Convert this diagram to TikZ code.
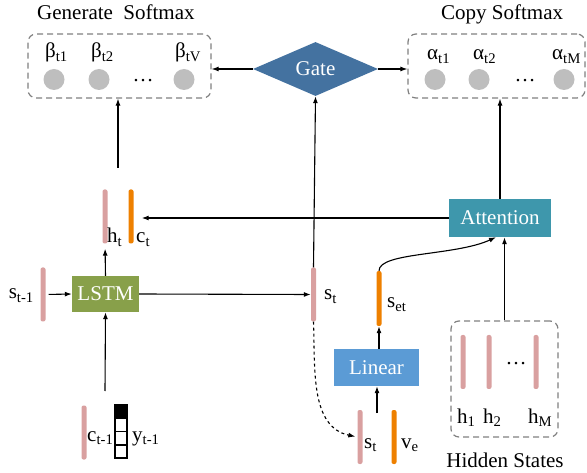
\documentclass[tikz,border=0pt]{standalone}
\usepackage{fontspec}
\setmainfont{Liberation Serif}
\usetikzlibrary{shapes.geometric,arrows.meta}
\definecolor{rosa}{RGB}{217,160,160}
\definecolor{naranja}{RGB}{238,128,0}
\definecolor{verde}{RGB}{136,160,74}
\definecolor{azulgate}{RGB}{68,114,160}
\definecolor{azulatt}{RGB}{62,151,172}
\definecolor{azullin}{RGB}{91,155,213}
\definecolor{gris}{RGB}{190,190,190}
\begin{document}
\begin{tikzpicture}[x=1pt,y=-1pt,
    >={Latex[length=7pt,width=5pt]},
    every node/.style={font=\fontsize{21}{25}\selectfont},
    flecha/.style={->,line width=1.1pt},
    barra/.style={rectangle,rounded corners=2pt,minimum width=5pt,minimum height=54pt,inner sep=0pt},
    bp/.style={barra,fill=rosa},
    bo/.style={barra,fill=naranja},
    etiq/.style={anchor=base west,inner sep=0pt},
    caja/.style={rectangle,text=white,inner sep=0pt},
    punteada/.style={draw=gray,line width=1.2pt,dash pattern=on 6pt off 4pt,rounded corners=8pt,inner sep=0pt},
    bola/.style={circle,fill=gris,minimum size=21pt,inner sep=0pt},
    celda/.style={draw,line width=1.8pt,minimum width=12pt,minimum height=13.25pt,inner sep=0pt}]
  \useasboundingbox (0,0) rectangle (587,473);

  % Cajas de softmax
  \node[anchor=base west,inner sep=0pt] (tgen) at (37,20) {Generate\ \ Softmax};
  \node[anchor=base west,inner sep=0pt] (tcopy) at (441,20) {Copy Softmax};
  \node[punteada,minimum width=183pt,minimum height=64pt] (gen) at (119.5,66) {};
  \node[punteada,minimum width=177pt,minimum height=64pt] (copy) at (496.5,66) {};

  % Probabilidades
  \node[bola] (b1) at (54,79.5) {};
  \node[bola] (b2) at (99,79.5) {};
  \node[bola] (bV) at (184,79.5) {};
  \node[anchor=base,inner sep=0pt] (dgen) at (143,82) {\dots};
  \node[etiq] (lb1) at (45,58) {β\textsubscript{t1}};
  \node[etiq] (lb2) at (91,58) {β\textsubscript{t2}};
  \node[etiq] (lbV) at (175,58) {β\textsubscript{tV}};
  \node[bola] (a1) at (435,79.5) {};
  \node[bola] (a2) at (479,79.5) {};
  \node[bola] (aM) at (564,79.5) {};
  \node[anchor=base,inner sep=0pt] (dcopy) at (525,82) {\dots};
  \node[etiq] (la1) at (427,60) {α\textsubscript{t1}};
  \node[etiq] (la2) at (473,60) {α\textsubscript{t2}};
  \node[etiq] (laM) at (552,60) {α\textsubscript{tM}};

  % Gate
  \node[caja,diamond,fill=azulgate,minimum width=125pt,minimum height=54pt,aspect=2.3] (gate) at (315.5,69) {Gate};
  \draw[flecha] (gate.west) -- (gate.west -| gen.east);
  \draw[flecha] (gate.east) -- (gate.east -| copy.west);

  % LSTM
  \node[bp] (ht) at (105,216.5) {};
  \node[bo] (ct) at (131,216.5) {};
  \node[etiq] (lht) at (107,243) {h\textsubscript{t}};
  \node[etiq] (lct) at (136,243) {c\textsubscript{t}};
  \coordinate (hc) at (118,168);
  \draw[flecha] (hc) -- (hc |- gen.south);
  \node[caja,fill=verde,minimum width=67pt,minimum height=36pt] (lstm) at (105.5,294) {LSTM};
  \node[bp] (sprev) at (43,294.5) {};
  \node[anchor=base east,inner sep=0pt] (lsprev) at (34,299) {s\textsubscript{t-1}};
  \node[bp] (st) at (313.5,294.5) {};
  \node[etiq] (lst) at (324,300) {s\textsubscript{t}};
  \draw[flecha,shorten <=3pt] (sprev.east) -- (lstm.west);
  \draw[flecha] (lstm.east) -- (st.west);
  \draw[flecha,shorten >=5pt] (lstm.north) -- (ht.south);
  \draw[flecha] (st.north) -- (gate.south);

  % Entrada
  \node[bp] (cprev) at (84,432.5) {};
  \node[etiq] (lcprev) at (87,441) {c\textsubscript{t-1}};
  \foreach \i in {0,...,3}
    \node[celda] (y\i) at (121,411.6+13.25*\i) {};
  \fill (y0.north west) rectangle (y0.south east);
  \node[etiq] (ly) at (132,441) {y\textsubscript{t-1}};
  \coordinate (ent) at (105,391);
  \draw[flecha] (ent) -- (lstm.south);

  % Attention
  \node[caja,fill=azulatt,minimum width=102pt,minimum height=38pt] (att) at (500,218) {Attention};
  \draw[flecha,shorten >=8pt] (att.west) -- (att.west -| ct.east);
  \draw[flecha] (att.north) -- (att.north |- copy.south);

  % Linear
  \node[bo,minimum height=55pt] (set) at (379,298.5) {};
  \node[etiq] (lset) at (387,308) {s\textsubscript{et}};
  \node[caja,fill=azullin,minimum width=85pt,minimum height=37pt] (lin) at (376.5,367.5) {Linear};
  \node[bp] (st2) at (360,437) {};
  \node[bo] (ve) at (394,437) {};
  \node[etiq] (lst2) at (364,448) {s\textsubscript{t}};
  \node[etiq] (lve) at (401,448) {v\textsubscript{e}};
  \coordinate (sv) at (377,413);
  \draw[flecha] (sv) -- (sv |- lin.south);
  \draw[flecha] (set.south |- lin.north) -- (set.south);
  \draw[flecha] (set.north) .. controls (379,252) and (455,256) .. ([xshift=-4pt]att.south);
  \draw[flecha,dashed,shorten >=2pt] (st.south) to[out=-88,in=168] (st2.west);

  % Hidden States
  \node[punteada,minimum width=107pt,minimum height=116pt] (hid) at (504.5,379) {};
  \node[bp] (h1) at (463,362) {};
  \node[bp] (h2) at (489,362) {};
  \node[bp] (hM) at (536,362) {};
  \node[anchor=base,inner sep=0pt] (dhid) at (516,365) {\dots};
  \node[etiq] (lh1) at (457,423) {h\textsubscript{1}};
  \node[etiq] (lh2) at (483,423) {h\textsubscript{2}};
  \node[etiq] (lhM) at (528,423) {h\textsubscript{M}};
  \node[anchor=base,inner sep=0pt] (thid) at (505,467) {Hidden States};
  \draw[flecha] (hid.north) -- (hid.north |- att.south);
\end{tikzpicture}
\end{document}
